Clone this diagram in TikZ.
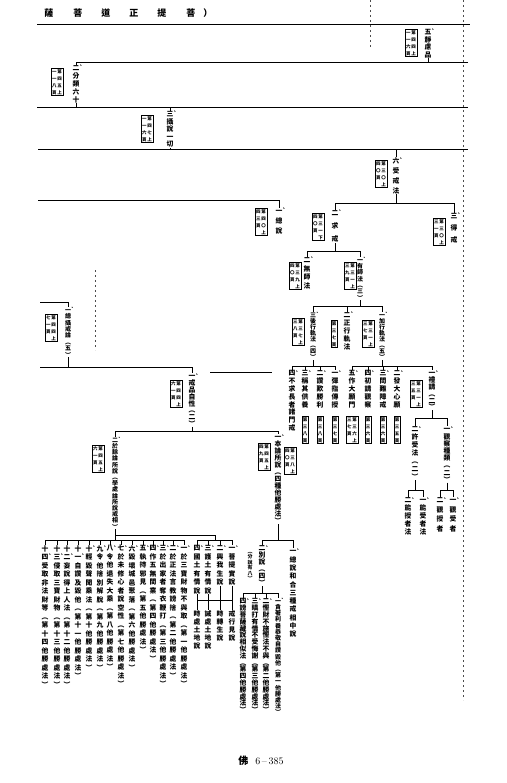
\documentclass[tikz,border=0pt]{standalone}
\usepackage{fontspec}
\usepackage{graphicx}
\newfontfamily\cjk{Noto Sans CJK TC}
\usetikzlibrary{positioning}

% vertical text, one character per line
\ExplSyntaxOn
\NewDocumentCommand\vt{O{7.5}m}{
  \vtop{\baselineskip=#1pt\lineskiplimit=-\maxdimen
    \tl_map_inline:nn{#2}{\hbox~to~1em{\hss##1\hss}}
  }
}
\ExplSyntaxOff
\newcommand\nm[1]{#1\rlap{\raisebox{.42em}{\kern-.15em\scalebox{.75}{、}}}}
\newcommand\pg[2]{\hbox{\vt[7]{#2}\kern.8pt\vt[7]{#1}}}

\begin{document}
\begin{tikzpicture}[x=1pt,y=-1pt,line width=.6pt,
  lbl/.style={inner sep=0pt,anchor=north,font=\cjk\bfseries\fontsize{6.8}{7.5}\selectfont},
  tight/.style={font=\cjk\bfseries\fontsize{6}{6.5}\selectfont},
  bx/.style={draw,line width=.5pt,inner sep=1pt,anchor=north,font=\cjk\bfseries\fontsize{4.5}{5}\selectfont},
  scan/.style={line width=.5pt,black!70,dash pattern=on 2pt off 3pt}]
\path[use as bounding box,fill=white] (0,0) rectangle (506,783);

% title
\node[anchor=west,inner sep=0pt,font=\cjk\bfseries\fontsize{9}{9}\selectfont] (ttl) at (44,13) {薩\hspace{20pt}菩\hspace{19pt}道\hspace{19pt}正\hspace{19pt}提\hspace{20pt}菩\hspace{8pt}）};

%% top rows
\node[lbl] (t5) at (428,29) {\vt{{\nm{五}}靜慮品}};
\node[bx] (b5) at (411,29) {\pg{第四四上}{一一六頁}};
\node[lbl] (t2a) at (76,65) {\vt[7.8]{{\nm{二}}分類六十}};
\node[bx] (b2a) at (57,68) {\pg{第四五上}{一一八頁}};
\node[lbl] (t3a) at (170,111) {\vt{{\nm{三}}攝說一切}};
\node[bx] (b3a) at (147,115) {\pg{第四七上}{一一六頁}};

\coordinate (l1w) at (37,24);
\coordinate (l1e) at (470,24);
\coordinate (l2e) at (468,62);
\coordinate (l3w) at (37,107);
\coordinate (l3e) at (468,107);
\coordinate (l4w) at (38,149);
\coordinate (l4e) at (468,149);
\draw (l1w) -- (l1e);
\draw (l2e) -| (t2a.north);
\draw (t5.south) -- (t5.south |- l2e);
\draw (l3w) -- (l3e);
\draw (t2a.south) -- (t2a.south |- l3w);
\draw (t3a.north) -- (t3a.north |- l3w);
\draw (l4w) -- (l4e);
\draw (t3a.south) -- (t3a.south |- l4w);

%% receiving the precepts
\node[lbl] (tsj) at (396,157) {\vt[10]{{\nm{六}}受戒法}};
\node[bx] (bsj) at (381,160) {\pg{第三〇上}{四〇頁}};
\draw (tsj.north) -- (tsj.north |- l4w);

\node[lbl] (tzs) at (279,208) {\vt[10]{{\nm{一}}總說}};
\node[bx] (bzs) at (261,208) {\pg{第四〇上}{四三頁}};
\node[lbl] (tqj) at (335,210) {\vt[13]{{\nm{二}}求戒}};
\node[bx] (bqj) at (318,213) {\pg{第三一下}{四〇頁}};
\node[lbl] (tdj) at (454,213) {\vt[12]{{\nm{三}}得戒}};
\node[bx] (bdj) at (439,218) {\pg{第三〇上}{三一頁}};

\coordinate (l5w) at (38,200);
\draw (l5w) -| (tzs.north);
\coordinate (br1) at (0,203);
\draw (tsj.south) -- (tsj.south |- br1);
\draw (tqj.north) -- (tqj.north |- br1) -- (tdj.north |- br1) -- (tdj.north);

\node[lbl] (tws) at (307,257) {\vt[8.5]{{\nm{二}}無師法}};
\node[bx] (bws) at (295,262) {\pg{第三九上}{四〇頁}};
\node[lbl,tight] (tys) at (360,257) {\vt[6.3]{{\nm{一}}有師法︵三︶}};
\node[bx] (bys) at (350,262) {\pg{第三一上}{三九頁}};

\coordinate (br2) at (0,251);
\draw (tqj.south) -- (tqj.south |- br2);
\draw (tws.north) -- (tws.north |- br2) -- (tys.north |- br2) -- (tys.north);

\node[lbl,tight] (thx) at (313,312) {\vt[6.1]{{\nm{三}}後行軌法︵四︶}};
\node[bx] (bhx) at (298,318) {\pg{第三七上}{三八頁}};
\node[lbl] (tzx) at (347,312) {\vt[8]{{\nm{二}}正行軌法}};
\node[bx] (bzx) at (334,320) {\vt[7]{第三七頁}};
\node[lbl,tight] (tjx) at (382,312) {\vt[6.1]{{\nm{一}}加行軌法︵五︶}};
\node[bx] (bjx) at (368,320) {\pg{第三一上}{三七頁}};

\coordinate (br3) at (0,306);
\draw (tys.south) -- (tys.south |- br3);
\draw (thx.north) -- (thx.north |- br3) -- (tjx.north |- br3) -- (tjx.north);
\draw (tzx.north) -- (tzx.north |- br3);

% after the rite
\node[lbl] (hx4) at (292,370) {\vt[7.8]{{\nm{四}}不求長者諸門戒}};
\node[lbl] (hx3) at (305,370) {\vt[8]{{\nm{三}}稱其供養}};
\node[lbl] (hx2) at (320,370) {\vt[8]{{\nm{二}}讚歎勝利}};
\node[lbl] (hx1) at (335,370) {\vt[8]{{\nm{一}}彈指傳授}};
\node[bx] (bh4) at (290,447) {\pg{第三八上}{四〇頁}};
\node[bx] (bh3) at (305,416) {\vt[7]{第三八頁}};
\node[bx] (bh2) at (320,416) {\vt[7]{第三八頁}};
\node[bx] (bh1) at (335,416) {\vt[7]{第三七頁}};

\coordinate (br4) at (0,366);
\draw (thx.south) -- (thx.south |- br4);
\draw (hx4.north) -- (hx4.north |- br4) -- (hx1.north |- br4) -- (hx1.north);
\draw (hx3.north) -- (hx3.north |- br4);
\draw (hx2.north) -- (hx2.north |- br4);

% preparation
\node[lbl] (jx5) at (352,370) {\vt[8]{{\nm{五}}作大願門}};
\node[lbl] (jx4) at (368,370) {\vt[8]{{\nm{四}}初請觀察}};
\node[lbl] (jx3) at (383,370) {\vt[8]{{\nm{三}}問難障戒}};
\node[lbl] (jx2) at (397,370) {\vt[8]{{\nm{二}}發大心願}};
\node[lbl] (jx1) at (432,370) {\vt[6.8]{{\nm{一}}禮請︵二︶}};
\node[bx] (bj5) at (352,416) {\pg{第三六上}{三七頁}};
\node[bx] (bj4) at (368,416) {\vt[7]{第三六頁}};
\node[bx] (bj3) at (383,416) {\vt[7]{第三六頁}};
\node[bx] (bj2) at (397,416) {\vt[7]{第三五頁}};
\node[bx] (bj1) at (416,380) {\pg{第三一上}{三五頁}};

\coordinate (br5) at (0,366);
\draw (tjx.south) -- (tjx.south |- br5);
\draw (jx5.north) -- (jx5.north |- br5) -- (jx1.north |- br5) -- (jx1.north);
\draw (jx4.north) -- (jx4.north |- br5);
\draw (jx3.north) -- (jx3.north |- br5);
\draw (jx2.north) -- (jx2.north |- br5);

\node[lbl] (xsf) at (415,426) {\vt[8]{{\nm{二}}許受法︵二︶}};
\node[lbl] (gcz) at (447,426) {\vt[7.2]{{\nm{一}}觀察種類︵二︶}};
\coordinate (br6) at (0,418);
\draw (jx1.south) -- (jx1.south |- br6);
\draw (xsf.north) -- (xsf.north |- br6) -- (gcz.north |- br6) -- (gcz.north);

\node[lbl] (xs2) at (408,497) {\vt[8]{{\nm{二}}能授者法}};
\node[lbl] (xs1) at (423,497) {\vt[8]{{\nm{一}}能受者法}};
\node[lbl] (gc2) at (440,497) {\vt[9.5]{{\nm{二}}觀授者}};
\node[lbl] (gc1) at (453,497) {\vt[9.5]{{\nm{一}}觀受者}};
\coordinate (br7) at (0,490);
\draw (xsf.south) -- (xsf.south |- br7);
\draw (xs2.north) -- (xs2.north |- br7) -- (xs1.north |- br7) -- (xs1.north);
\draw (gcz.south) -- (gcz.south |- br7);
\draw (gc2.north) -- (gc2.north |- br7) -- (gc1.north |- br7) -- (gc1.north);

%% left half
\node[lbl,tight] (tzl) at (68,307) {\vt[6.4]{{\nm{一}}總攝戒論︵五︶}};
\node[bx] (bzl) at (51,314) {\pg{第四四上}{七一頁}};
\node[lbl] (tzx2) at (192,373) {\vt[6.8]{{\nm{一}}戒品自性︵二︶}};
\node[bx] (bzx2) at (176,380) {\pg{第四四上}{六一頁}};

\coordinate (l6w) at (40,302);
\coordinate (l7w) at (40,367);
\draw (l6w) -| (tzl.north);
\draw (l7w) -| (tzx2.north);
\draw (tzl.south) -- (tzl.south |- l7w);
\coordinate (s1) at (210,372);
\coordinate (s2) at (272,372);
\draw (s1) -- (s2);

\node[lbl,tight] (tlun) at (115,437) {\vt[6.2]{{\nm{二}}於餘論所說︵學處論所說戒相︶}};
\node[bx] (blun) at (98,445) {\pg{第四五上}{六一頁}};
\node[lbl] (tben) at (278,434) {\vt[7]{{\nm{一}}本論所說︵四種他勝處法︶}};
\node[bx] (bben) at (264,443) {\pg{第四五上}{四九頁}};

\coordinate (br8) at (0,431);
\draw (tzx2.south) -- (tzx2.south |- br8);
\draw (tlun.north) -- (tlun.north |- br8) -- (tben.north |- br8) -- (tben.north);

% fourteen items
\node[lbl] (p1) at (184,545) {\vt[8.5]{{\nm{一}}於三寶財物不與取︵第一他勝處法︶}};
\node[lbl] (p2) at (173,545) {\vt[8.5]{{\nm{二}}於正法言教謗捨︵第二他勝處法︶}};
\node[lbl] (p3) at (163,545) {\vt[8.5]{{\nm{三}}於出家者奪衣鞭打︵第三他勝處法︶}};
\node[lbl] (p4) at (153,545) {\vt[8.5]{{\nm{四}}作五無間業︵第四他勝處法︶}};
\node[lbl] (p5) at (143,545) {\vt[8.5]{{\nm{五}}執持邪見︵第五他勝處法︶}};
\node[lbl] (p6) at (132,545) {\vt[8.5]{{\nm{六}}毀壞城邑聚落︵第六他勝處法︶}};
\node[lbl] (p7) at (121,545) {\vt[8.5]{{\nm{七}}於未修心者說空性︵第七他勝處法︶}};
\node[lbl] (p8) at (110,545) {\vt[8.5]{{\nm{八}}令他退失大乘︵第八他勝處法︶}};
\node[lbl] (p9) at (100,545) {\vt[8.5]{{\nm{九}}令他捨別解脫︵第九他勝處法︶}};
\node[lbl] (p10) at (89,545) {\vt[8.5]{{\nm{十}}輕毀聲聞乘法︵第十他勝處法︶}};
\node[lbl] (p11) at (78,545) {\vt[8.5]{十{\nm{一}}自讚及毀他︵第十一他勝處法︶}};
\node[lbl] (p12) at (67,545) {\vt[8.5]{十{\nm{二}}妄說得上人法︵第十二他勝處法︶}};
\node[lbl] (p13) at (57,545) {\vt[8.5]{十{\nm{三}}侵取三寶財物︵第十三他勝處法︶}};
\node[lbl] (p14) at (45,545) {\vt[8.5]{十{\nm{四}}受取非法財等︵第十四他勝處法︶}};

\coordinate (br9) at (0,540);
\draw (tlun.south) -- (tlun.south |- br9);
\draw (p14.north) -- (p14.north |- br9) -- (p1.north |- br9) -- (p1.north);
\foreach \i in {2,...,13}
  \draw (p\i.north) -- (p\i.north |- br9);

% four items
\node[lbl] (g1) at (232,545) {\vt[8.5]{{\nm{一}}菩提實說}};
\node[lbl] (g2) at (220,545) {\vt[8.5]{{\nm{二}}興我生說}};
\node[lbl] (g3) at (208,545) {\vt[8.5]{{\nm{三}}護土有情說}};
\node[lbl] (g4) at (197,545) {\vt[8.5]{{\nm{四}}國土有情說}};
\node[lbl] (h1) at (232,610) {\vt[8]{戒行見說}};
\node[lbl] (h2) at (220,610) {\vt[8]{時轉生說}};
\node[lbl] (h3) at (208,610) {\vt[8]{誡處土地說}};
\node[lbl] (h4) at (197,610) {\vt[8]{時處土地說}};

\coordinate (gj) at (215,535);
\coordinate (bg) at (0,600);
\draw (tlun.south |- gj) -- (gj) -- (gj |- br9);
\draw (g4.north) -- (g4.north |- br9) -- (g1.north |- br9) -- (g1.north);
\draw (g2.north) -- (g2.north |- br9);
\draw (g3.north) -- (g3.north |- br9);
\draw (g4.south |- bg) -- (g1.south |- bg);
\foreach \i in {1,...,4}
  \draw (g\i.south) -- (h\i.north);

% this treatise
\node[lbl] (tbs) at (262,545) {\vt[7]{{\nm{二}}別說︵四︶}};
\node[lbl,font=\cjk\bfseries\fontsize{5}{6}\selectfont] (tfs) at (250,552) {\vt[5.5]{︵分說有八︶}};
\node[lbl] (tzh) at (293,548) {\vt[8.3]{{\nm{一}}總說和合三種戒相中說}};
\coordinate (br10) at (0,540);
\draw (tben.south) -- (tben.south |- br10);
\draw (tbs.north) -- (tbs.north |- br10) -- (tzh.north |- br10) -- (tzh.north);

\node[lbl,tight] (q1) at (278,598) {\vt[6.2]{{\nm{一}}貪著利養恭敬自讚毀他︵第一他勝處法︶}};
\node[lbl] (q2) at (266,598) {\vt[6.8]{{\nm{二}}慳財不施慳法不與︵第二他勝處法︶}};
\node[lbl] (q3) at (255,598) {\vt[6.8]{{\nm{三}}瞋打有情不受悔謝︵第三他勝處法︶}};
\node[lbl] (q4) at (243,598) {\vt[6.8]{{\nm{四}}謗菩薩藏說相似法︵第四他勝處法︶}};
\coordinate (br11) at (0,593);
\draw (tbs.south) -- (tbs.south |- br11);
\draw (q4.north) -- (q4.north |- br11) -- (q1.north |- br11) -- (q1.north);
\draw (q2.north) -- (q2.north |- br11);
\draw (q3.north) -- (q3.north |- br11);

%% scan marks
\draw[scan] (463,0) -- (463,700);
\draw[scan] (370,0) -- (370,48);
\draw[scan] (95,270) -- (95,350);

% page number
\node[inner sep=0pt,font=\fontsize{10}{12}\selectfont] (pgno) at (261,761) {{\cjk\bfseries 佛}\hspace{.7em}6\,--\,385};
\end{tikzpicture}
\end{document}
